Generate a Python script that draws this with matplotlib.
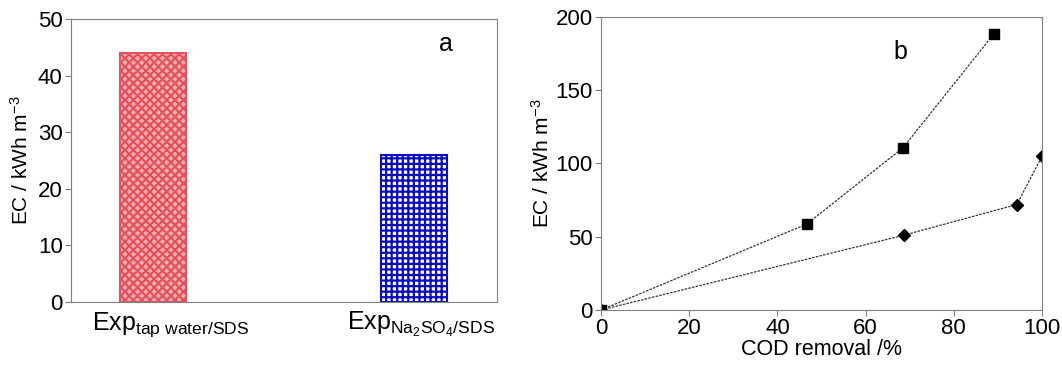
import matplotlib
matplotlib.use("Agg")
import matplotlib.pyplot as plt
import matplotlib.transforms as mtransforms

plt.rcParams['font.family'] = ['Liberation Sans', 'DejaVu Sans']
plt.rcParams['mathtext.fontset'] = 'custom'
plt.rcParams['mathtext.rm'] = 'Liberation Sans'
plt.rcParams['mathtext.it'] = 'Liberation Sans'
plt.rcParams['hatch.linewidth'] = 1.6

# panel a
exps = [r'Exp$_{\mathregular{tap\ water/SDS}}$', r'Exp$_{\mathregular{Na_{2}SO_{4}/SDS}}$']
ec_bar = [44, 26]

# panel b
cod_sq = [0, 46.7, 68.5, 89.1]
ec_sq = [0, 58.7, 110.8, 188.5]
cod_dia = [0, 68.6, 94.3, 100]
ec_dia = [0, 51, 72, 105]

fig = plt.figure(figsize=(10.62, 3.65), dpi=100)
frame = '#808080'

ax1 = fig.add_axes([71/1062, 1-302/365, 426/1062, 283/365])
b = ax1.bar([0, 1], ec_bar, width=0.253)
b[0].set_facecolor('#f6b4b8'); b[0].set_edgecolor('#e8505a'); b[0].set_hatch('xxxx')
b[1].set_facecolor('white'); b[1].set_edgecolor('#0a0ac0'); b[1].set_hatch('+++')
for p in b:
    p.set_linewidth(1.5)
ax1.set_xlim(-0.314, 1.318)
ax1.set_ylim(0, 50)
ax1.set_yticks(range(0, 51, 10))
ax1.set_xticks([0, 1])
ax1.set_xticklabels(exps)
ax1.tick_params(axis='x', length=0, labelsize=18, pad=6)
ax1.tick_params(axis='y', direction='out', length=4, labelsize=16, color=frame, pad=2)
# labels sit slightly right of the bar centres in the original
for lab, dx in zip(ax1.get_xticklabels(), [0.18, 0.07]):
    lab.set_transform(lab.get_transform() + mtransforms.ScaledTranslation(dx, 0, fig.dpi_scale_trans))
ax1.set_ylabel(r'EC / kWh m$^{\mathregular{-3}}$', fontsize=15, labelpad=4)
ax1.text(0.88, 0.91, 'a', transform=ax1.transAxes, fontsize=18, ha='center', va='center')
for s in ax1.spines.values():
    s.set_color(frame)

ax2 = fig.add_axes([601/1062, 1-310/365, 441/1062, 293/365])
ax2.plot(cod_sq, ec_sq, color='#333333', linestyle='--', dashes=(2, 1), linewidth=0.9,
         marker='s', markersize=7.5, markerfacecolor='black', markeredgecolor='black')
ax2.plot(cod_dia, ec_dia, color='#333333', linestyle='--', dashes=(2, 1), linewidth=0.9,
         marker='D', markersize=6, markerfacecolor='black', markeredgecolor='black')
ax2.set_xlim(0, 100)
ax2.set_ylim(0, 200)
ax2.set_xticks(range(0, 101, 20))
ax2.set_yticks(range(0, 201, 50))
ax2.tick_params(direction='out', length=4, labelsize=16, color=frame, pad=2)
ax2.set_xlabel('COD removal /%', fontsize=15.5, labelpad=0)
ax2.set_ylabel(r'EC / kWh m$^{\mathregular{-3}}$', fontsize=15, labelpad=2)
ax2.text(0.68, 0.88, 'b', transform=ax2.transAxes, fontsize=18, ha='center', va='center')
for s in ax2.spines.values():
    s.set_color(frame)

fig.savefig('out.png', dpi=100)
